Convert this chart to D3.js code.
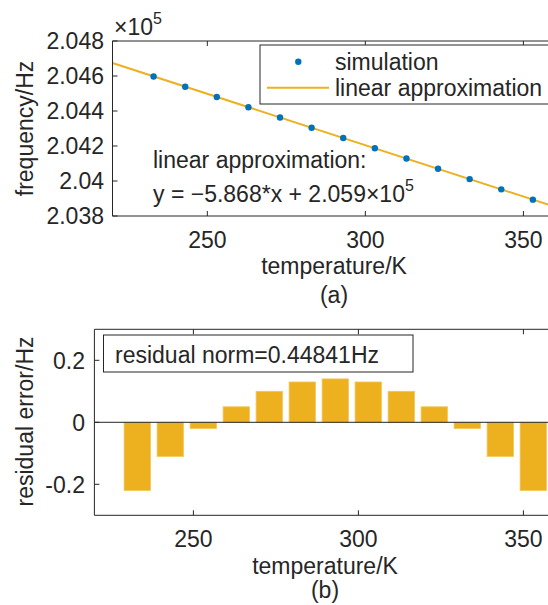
<!DOCTYPE html>
<html>
<head>
<meta charset="utf-8">
<script src="https://cdn.jsdelivr.net/npm/d3@7/dist/d3.min.js"></script>
<style>
  body { margin: 0; background: #fff; }
  text { font-family: "Liberation Sans", Arial, Helvetica, sans-serif; fill: #262626; }
</style>
</head>
<body>
<div id="chart"></div>
<script>
// temperatures (K) of the simulated points
const temperature = [233, 243, 253, 263, 273, 283, 293, 303, 313, 323, 333, 343, 353];
// simulated frequency (Hz)
const frequency = [204597.54, 204538.97, 204480.38, 204421.77, 204363.14, 204304.49, 204245.82,
                   204187.13, 204128.42, 204069.69, 204010.94, 203952.17, 203893.38];
// residual error of the linear fit (Hz)
const residual = [-0.22, -0.11, -0.02, 0.05, 0.10, 0.13, 0.14, 0.13, 0.10, 0.05, -0.02, -0.11, -0.22];
// fitted line y = slope*x + intercept
const fitSlope = -5.868;
const fitIntercept = 205965;

const xTicks = [250, 300, 350];
const freqTicks = [2.038, 2.04, 2.042, 2.044, 2.046, 2.048];
const freqTickLabels = ["2.038", "2.04", "2.042", "2.044", "2.046", "2.048"];
const resTicks = [-0.2, 0, 0.2];
const resTickLabels = ["-0.2", "0", "0.2"];

var width = 548
var height = 605
var fs = 23
var dark = "#262626"
var blue = "#0072BD"
var gold = "#EDB120"

var svg = d3.select("#chart")
  .append("svg")
    .attr("width", width)
    .attr("height", height)
    .style("display", "block")

svg.append("defs").append("clipPath").attr("id", "clipA")
  .append("rect").attr("x", 112.5).attr("y", 41).attr("width", 442.5).attr("height", 175)

// ---------- panel (a) ----------
var xA = d3.scaleLinear().domain([220, 360]).range([112.5, 555])
var yA = d3.scaleLinear().domain([2.038, 2.048]).range([216, 41])

var gA = svg.append("g")

// ticks inward on all sides
xTicks.forEach(function(t) {
  gA.append("line").attr("x1", xA(t)).attr("x2", xA(t)).attr("y1", 216).attr("y2", 211)
    .attr("stroke", dark).attr("stroke-width", 1)
  gA.append("line").attr("x1", xA(t)).attr("x2", xA(t)).attr("y1", 41).attr("y2", 46)
    .attr("stroke", dark).attr("stroke-width", 1)
  gA.append("text").attr("x", xA(t)).attr("y", 247.5).attr("text-anchor", "middle")
    .style("font-size", fs + "px").text(t)
})
freqTicks.forEach(function(t, i) {
  gA.append("line").attr("x1", 112.5).attr("x2", 117.5).attr("y1", yA(t)).attr("y2", yA(t))
    .attr("stroke", dark).attr("stroke-width", 1)
  gA.append("text").attr("x", 104).attr("y", yA(t)).attr("dy", "0.36em").attr("text-anchor", "end")
    .style("font-size", fs + "px").text(freqTickLabels[i])
})

// fitted line
var fitX = xA.domain()
gA.append("path")
  .attr("clip-path", "url(#clipA)")
  .attr("d", d3.line()
    .x(function(d) { return xA(d) })
    .y(function(d) { return yA((fitSlope * d + fitIntercept) / 1e5) })(fitX))
  .attr("fill", "none")
  .attr("stroke", gold)
  .attr("stroke-width", 2)

// simulation points
gA.selectAll("circle.sim")
  .data(temperature)
  .enter()
  .append("circle")
  .attr("class", "sim")
  .attr("cx", function(d) { return xA(d) })
  .attr("cy", function(d, i) { return yA(frequency[i] / 1e5) })
  .attr("r", 3.2)
  .attr("fill", blue)

// axes box
gA.append("path")
  .attr("d", "M555,216H112.5V41H555")
  .attr("fill", "none").attr("stroke", dark).attr("stroke-width", 1)

// exponent label
var ex = gA.append("text").attr("x", 114).attr("y", 35).style("font-size", fs + "px")
ex.append("tspan").text("\u00d710")
ex.append("tspan").attr("dy", -11).style("font-size", "16px").text("5")

// legend
var leg = gA.append("g")
leg.append("rect").attr("x", 260).attr("y", 45).attr("width", 300).attr("height", 59)
  .attr("fill", "#fff").attr("stroke", dark).attr("stroke-width", 1)
leg.append("circle").attr("cx", 298.3).attr("cy", 61.7).attr("r", 3.2).attr("fill", blue)
leg.append("text").attr("x", 335).attr("y", 69.5).style("font-size", fs + "px").text("simulation")
leg.append("line").attr("x1", 267).attr("x2", 329).attr("y1", 87.7).attr("y2", 87.7)
  .attr("stroke", gold).attr("stroke-width", 2)
leg.append("text").attr("x", 335).attr("y", 95.5).style("font-size", fs + "px").text("linear approximation")

// fit annotation
gA.append("text").attr("x", 153).attr("y", 168).style("font-size", fs + "px").text("linear approximation:")
var eq = gA.append("text").attr("x", 153).attr("y", 202).style("font-size", fs + "px")
eq.append("tspan").text("y = \u22125.868*x + 2.059\u00d710")
eq.append("tspan").attr("dy", -11).style("font-size", "16px").text("5")

gA.append("text").attr("x", 334).attr("y", 274).attr("text-anchor", "middle")
  .style("font-size", fs + "px").text("temperature/K")
gA.append("text").attr("x", 334).attr("y", 303).attr("text-anchor", "middle")
  .style("font-size", fs + "px").text("(a)")
gA.append("text").attr("transform", "translate(33,128.5) rotate(-90)").attr("text-anchor", "middle")
  .style("font-size", fs + "px").text("frequency/Hz")

// ---------- panel (b) ----------
var xB = d3.scaleLinear().domain([220, 360]).range([94.4, 556.4])
var yB = d3.scaleLinear().domain([-0.3, 0.3]).range([515.3, 329.3])
var barW = xB(228) - xB(220)

var gB = svg.append("g")

gB.selectAll("rect.bar")
  .data(residual)
  .enter()
  .append("rect")
  .attr("class", "bar")
  .attr("x", function(d, i) { return xB(temperature[i]) - barW / 2 })
  .attr("y", function(d) { return yB(Math.max(0, d)) })
  .attr("width", barW)
  .attr("height", function(d) { return Math.abs(yB(d) - yB(0)) })
  .attr("fill", gold)
  .attr("stroke", "#f3c65a")
  .attr("stroke-width", 0.8)

// baseline
gB.append("line").attr("x1", 94.4).attr("x2", 556.4).attr("y1", yB(0)).attr("y2", yB(0))
  .attr("stroke", dark).attr("stroke-width", 1)

xTicks.forEach(function(t) {
  gB.append("line").attr("x1", xB(t)).attr("x2", xB(t)).attr("y1", 515.3).attr("y2", 510.3)
    .attr("stroke", dark).attr("stroke-width", 1)
  gB.append("line").attr("x1", xB(t)).attr("x2", xB(t)).attr("y1", 329.3).attr("y2", 334.3)
    .attr("stroke", dark).attr("stroke-width", 1)
  gB.append("text").attr("x", xB(t)).attr("y", 546.5).attr("text-anchor", "middle")
    .style("font-size", fs + "px").text(t)
})
resTicks.forEach(function(t, i) {
  gB.append("line").attr("x1", 94.4).attr("x2", 99.4).attr("y1", yB(t)).attr("y2", yB(t))
    .attr("stroke", dark).attr("stroke-width", 1)
  gB.append("text").attr("x", 85).attr("y", yB(t)).attr("dy", "0.36em").attr("text-anchor", "end")
    .style("font-size", fs + "px").text(resTickLabels[i])
})

gB.append("path")
  .attr("d", "M556.4,515.3H94.4V329.3H556.4")
  .attr("fill", "none").attr("stroke", dark).attr("stroke-width", 1)

gB.append("rect").attr("x", 103.5).attr("y", 335).attr("width", 309.5).attr("height", 37)
  .attr("fill", "#fff").attr("stroke", dark).attr("stroke-width", 1)
gB.append("text").attr("x", 115).attr("y", 363).style("font-size", fs + "px").text("residual norm=0.44841Hz")

gB.append("text").attr("x", 325).attr("y", 574).attr("text-anchor", "middle")
  .style("font-size", fs + "px").text("temperature/K")
gB.append("text").attr("x", 325).attr("y", 598).attr("text-anchor", "middle")
  .style("font-size", fs + "px").text("(b)")
gB.append("text").attr("transform", "translate(33,421.5) rotate(-90)").attr("text-anchor", "middle")
  .style("font-size", fs + "px").text("residual error/Hz")
</script>
</body>
</html>
